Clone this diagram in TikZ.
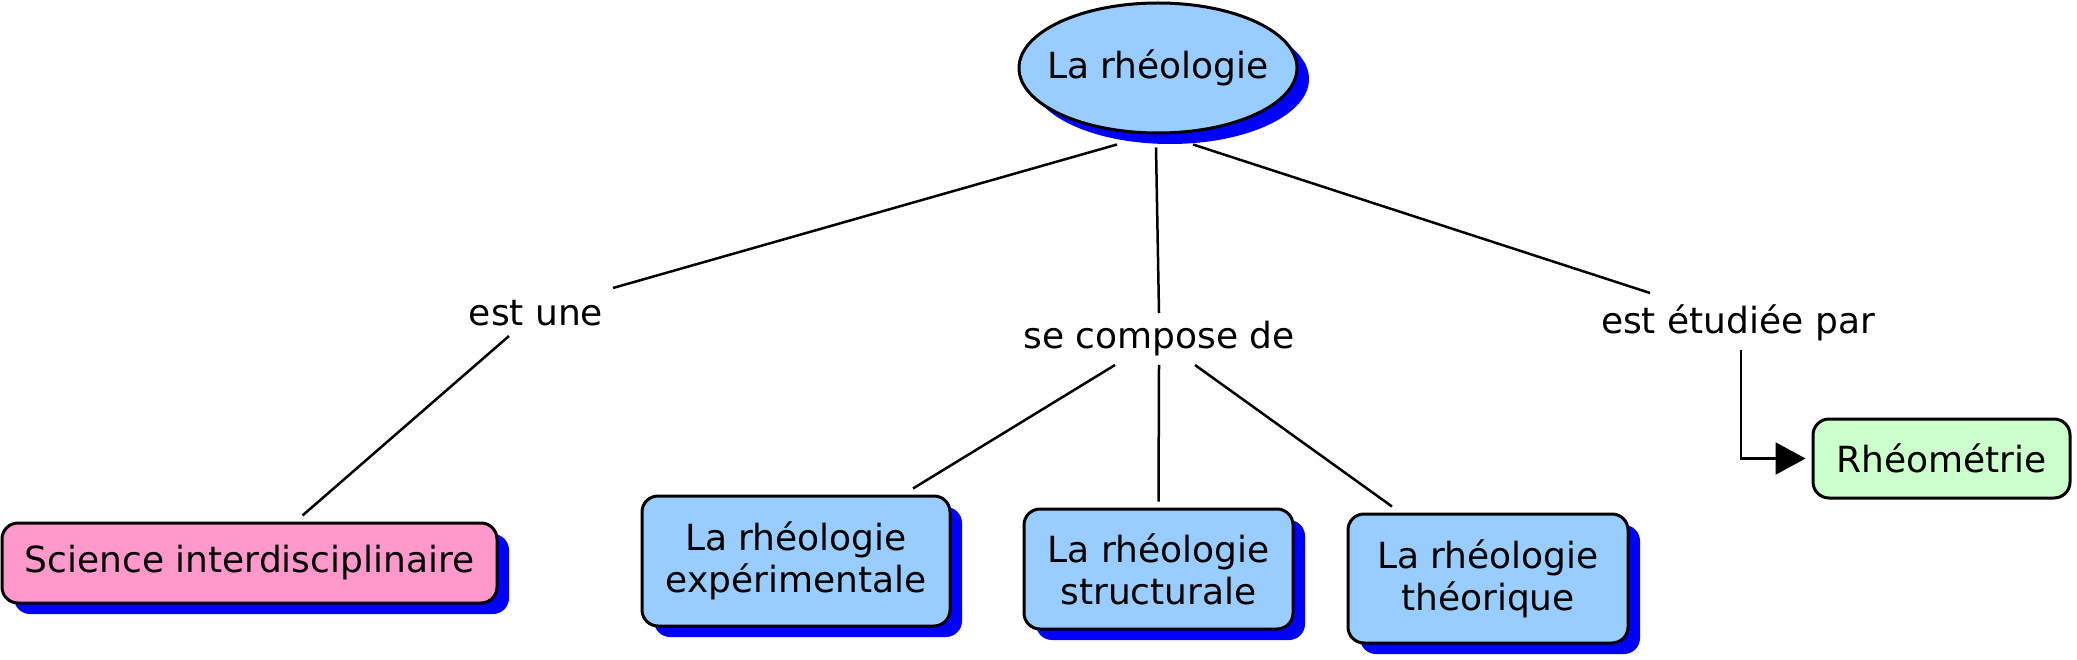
\documentclass[tikz,border=0pt]{standalone}
\usepackage{fontspec}
\setmainfont{DejaVu Sans}
\usetikzlibrary{shapes.geometric,shadows,arrows.meta}
\definecolor{nodeblue}{RGB}{153,204,255}
\definecolor{nodepink}{RGB}{255,153,204}
\definecolor{nodegreen}{RGB}{204,255,204}
\definecolor{shadowblue}{RGB}{0,0,255}
\begin{document}
\begin{tikzpicture}[x=1pt,y=-1pt,
  font=\fontsize{36}{42}\selectfont,
  bshadow/.style={drop shadow={shadow xshift=12pt,shadow yshift=-11pt,fill=shadowblue,opacity=1}},
  concept/.style={draw=black,line width=3pt,rounded corners=16pt,align=center,inner sep=0pt},
  lab/.style={inner sep=0pt,anchor=base},
  link/.style={line width=2.5pt,draw=black}]
\useasboundingbox (0,0) rectangle (2077,660);
% concepts
\node[ellipse,draw=black,line width=3pt,fill=nodeblue,bshadow,minimum width=278pt,minimum height=130pt,inner xsep=-13pt,inner ysep=0pt] (root) at (1158,68) {La rhéologie};
\node[concept,fill=nodepink,bshadow,minimum width=495pt,minimum height=80pt] (science) at (249.5,563) {Science interdisciplinaire};
\node[concept,fill=nodeblue,bshadow,minimum width=308pt,minimum height=130pt] (exp) at (796,561) {La rhéologie\\expérimentale};
\node[concept,fill=nodeblue,bshadow,minimum width=269pt,minimum height=120pt] (struct) at (1158.5,569) {La rhéologie\\structurale};
\node[concept,fill=nodeblue,bshadow,minimum width=280pt,minimum height=129pt] (theo) at (1488,578.5) {La rhéologie\\théorique};
\node[concept,fill=nodegreen,minimum width=257pt,minimum height=79pt] (rheo) at (1941.5,458.5) {Rhéométrie};
% link labels
\node[lab] (estune) at (536,325) {est une};
\node[lab] (compose) at (1159,348) {se compose de};
\node[lab] (etudiee) at (1738,333) {est étudiée par};
% connectors
\draw[link] ([xshift=-41pt,yshift=-10pt]root.south) -- ([xshift=77pt,yshift=37pt]estune.base);
\draw[link] ([xshift=-27pt,yshift=-11pt]estune.base) -- ([xshift=53pt,yshift=6pt]science.north);
\draw[link] ([xshift=-2pt,yshift=-13pt]root.south) -- ([yshift=35pt]compose.base);
\draw[link] ([xshift=-44pt,yshift=-17pt]compose.base) -- ([xshift=117pt,yshift=6pt]exp.north);
\draw[link] ([yshift=-17pt]compose.base) -- ([yshift=6pt]struct.north);
\draw[link] ([xshift=36pt,yshift=-17pt]compose.base) -- ([xshift=-96pt,yshift=6pt]theo.north);
\draw[link] ([xshift=35pt,yshift=-10pt]root.south) -- ([xshift=-88pt,yshift=40pt]etudiee.base);
\draw[link,-{Triangle[length=30pt,width=32pt]},shorten >=6pt] ([xshift=3pt,yshift=-17pt]etudiee.base) |- (rheo.west);
\end{tikzpicture}
\end{document}
